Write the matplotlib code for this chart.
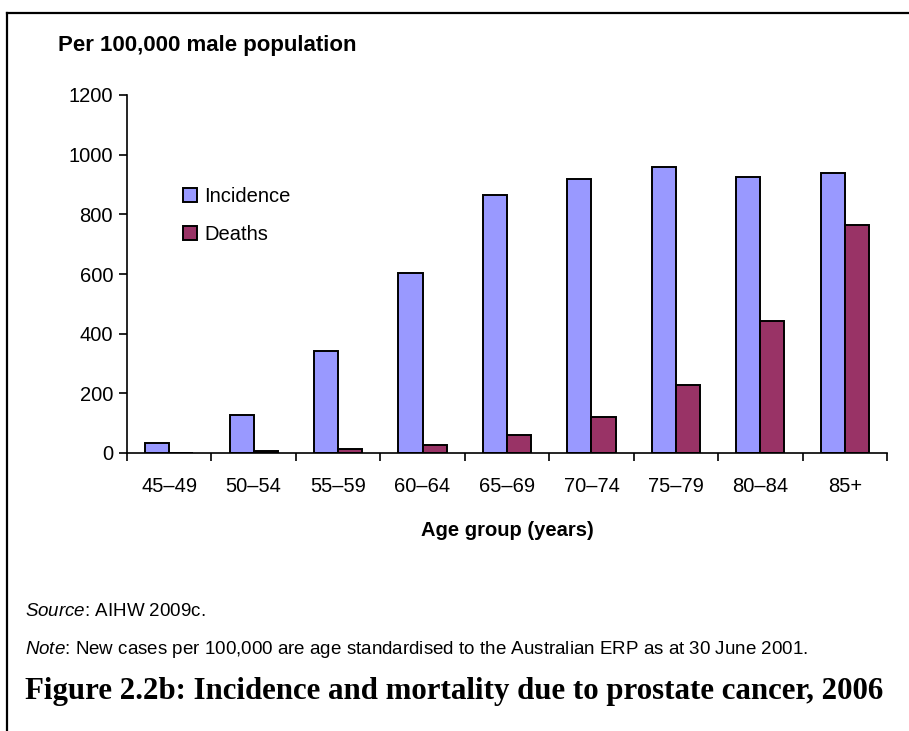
import numpy as np
from matplotlib import pyplot as plt
from matplotlib.lines import Line2D

plt.rcParams['font.family'] = ['Liberation Sans', 'DejaVu Sans']
plt.rcParams['mathtext.fontset'] = 'custom'
plt.rcParams['mathtext.it'] = 'Liberation Sans:italic'
plt.rcParams['mathtext.rm'] = 'Liberation Sans'

ages = ['45–49', '50–54', '55–59', '60–64', '65–69', '70–74', '75–79', '80–84', '85+']
incidence = [33, 127, 342, 605, 866, 920, 960, 926, 940]
deaths = [1, 6, 13, 27, 62, 122, 229, 443, 765]

inc_col = '#9999FF'
dth_col = '#993366'

fig = plt.figure(figsize=(9.09, 7.31), dpi=100)
ax = fig.add_axes([127 / 909, 1 - 453 / 731, 760 / 909, 358 / 731])

x = np.arange(len(ages))
w = 0.285
ax.bar(x - w / 2, incidence, w, color=inc_col, edgecolor='black', linewidth=1.4, zorder=2)
ax.bar(x + w / 2, deaths, w, color=dth_col, edgecolor='black', linewidth=1.4, zorder=2)

ax.set_xlim(-0.5, len(ages) - 0.5)
ax.set_ylim(0, 1200)
ax.set_yticks(range(0, 1201, 200))
ax.set_xticks(x)
ax.set_xticklabels(ages, fontsize=14.5)
ax.set_xticks(np.arange(-0.5, len(ages), 1), minor=True)
ax.tick_params(axis='x', which='major', length=0, pad=17)
ax.tick_params(axis='x', which='minor', length=6, width=1.2, direction='out')
ax.tick_params(axis='y', length=6, width=1.2, direction='out', labelsize=14.5, pad=4)

ax.spines['right'].set_visible(False)
ax.spines['top'].set_visible(False)
ax.spines['left'].set_linewidth(1.2)
ax.spines['bottom'].set_linewidth(1.2)

ax.set_xlabel('Age group (years)', fontsize=14.5, fontweight='bold', labelpad=18)

handles = [Line2D([], [], marker='s', linestyle='none', markersize=10,
                  markerfacecolor=inc_col, markeredgecolor='black', markeredgewidth=1.4),
           Line2D([], [], marker='s', linestyle='none', markersize=10,
                  markerfacecolor=dth_col, markeredgecolor='black', markeredgewidth=1.4)]
ax.legend(handles, ['Incidence', 'Deaths'], loc='upper left', bbox_to_anchor=(0.074, 0.742),
          frameon=False, fontsize=14.5, handletextpad=0.35, labelspacing=0.95,
          handlelength=0.7, borderpad=0, borderaxespad=0)

fig.text(58 / 909, 1 - 46 / 731, 'Per 100,000 male population', fontsize=16,
         fontweight='bold', va='center', ha='left')

fig.text(25 / 909, 1 - 612 / 731, r'$\it{Source}$: AIHW 2009c.', fontsize=13.5, va='center')
fig.text(25 / 909, 1 - 650 / 731,
         r'$\it{Note}$: New cases per 100,000 are age standardised to the Australian ERP as at 30 June 2001.',
         fontsize=13.5, va='center')
fig.text(25 / 909, 1 - 692 / 731, 'Figure 2.2b: Incidence and mortality due to prostate cancer, 2006',
         fontsize=22.2, fontweight='bold', family=['Liberation Serif', 'DejaVu Serif'], va='center')

# frame round the figure (left and top only)
fig.add_artist(Line2D([7 / 909, 7 / 909], [0, 1 - 13 / 731], transform=fig.transFigure,
                      color='black', linewidth=1.6))
fig.add_artist(Line2D([7 / 909, 1], [1 - 13 / 731, 1 - 13 / 731], transform=fig.transFigure,
                      color='black', linewidth=1.6))

plt.savefig('out.png', dpi=100)
